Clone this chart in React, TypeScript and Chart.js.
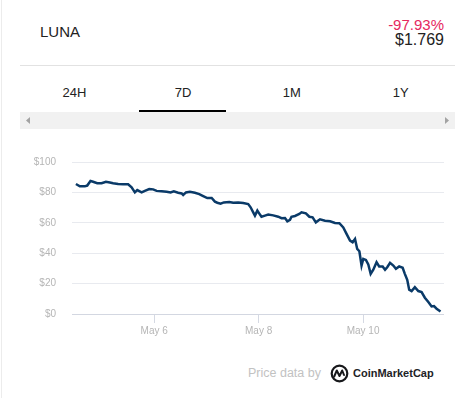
import React, { useEffect, useRef } from "react";
import { Chart, registerables } from "chart.js";

Chart.register(...registerables);

// Hours since May 4, 00:00
const hours = [
  12.0, 13.8, 16.1, 17.2, 18.7, 19.9, 21.8, 23.8, 25.8, 27.6, 29.1, 31.4, 33.7, 36.0, 37.6, 39.1,
  40.2, 42.2, 43.7, 45.7, 47.5, 49.1, 51.4, 53.7, 55.5, 57.0, 59.0, 60.6, 61.3, 62.6, 64.4, 66.7,
  68.7, 70.5, 72.4, 74.4, 75.9, 77.0, 78.5, 80.0, 82.5, 84.3, 86.6, 88.9, 91.2, 92.3, 93.5, 94.3,
  95.4, 96.6, 97.3, 98.9, 100.4, 102.7, 105.0, 106.5, 108.1, 109.2, 110.4, 111.1, 112.7, 114.7,
  115.7, 117.7, 119.3, 120.8, 122.3, 124.2, 126.5, 128.8, 131.1, 133.1, 134.9, 136.4, 138.0,
  139.2, 140.3, 141.3, 142.3, 143.3, 144.1, 145.3, 146.4, 147.5, 148.7, 150.2, 151.4, 153.0,
  154.1, 155.1, 156.4, 157.9, 159.1, 160.6, 162.2, 163.2, 164.3, 165.2, 166.3, 167.8, 169.4,
  170.9, 172.4, 174.0, 175.5, 176.6, 177.8, 179.6,
];

const prices = [
  85.5, 84.0, 84.0, 84.5, 87.5, 87.0, 86.0, 86.0, 87.0, 86.5, 86.0, 85.5, 85.3, 85.3, 83.3, 80.0,
  81.5, 80.0, 81.0, 82.2, 82.0, 81.0, 80.7, 80.4, 80.0, 80.7, 79.8, 79.3, 78.3, 80.0, 80.4, 79.8,
  78.9, 77.6, 76.3, 76.3, 73.9, 73.2, 72.6, 73.4, 73.7, 73.2, 73.4, 73.0, 72.3, 70.2, 66.9, 64.7,
  68.0, 65.4, 64.0, 64.7, 65.4, 64.9, 64.0, 63.0, 63.2, 61.0, 61.9, 64.0, 64.5, 65.8,
  66.9, 66.2, 64.0, 63.6, 60.3, 62.3, 61.4, 61.0, 59.9, 59.7, 57.0, 52.7, 48.3,
  47.2, 49.4, 42.8, 41.3, 31.9, 36.3, 35.6, 32.6, 26.4, 29.1, 34.1, 31.3, 31.3,
  29.1, 30.8, 33.7, 31.9, 29.7, 31.3, 30.4, 26.4, 22.5, 16.0, 15.1, 17.7, 15.1,
  14.4, 10.7, 7.9, 5.0, 5.2, 3.5, 1.7,
];

const xTickHours = [48, 96, 144];
const xTickLabels = ["May 6", "May 8", "May 10"];
const yTicks = [0, 20, 40, 60, 80, 100];

const tabs = ["24H", "7D", "1M", "1Y"];

function PriceChart() {
  const ref = useRef<HTMLCanvasElement | null>(null);
  useEffect(() => {
    if (!ref.current) return;
    const chart = new Chart(ref.current, {
      type: "line",
      data: {
        datasets: [
          {
            data: hours.map((h, i) => ({ x: h, y: prices[i] })),
            borderColor: "#0a3a68",
            borderWidth: 2.5,
            pointRadius: 0,
            tension: 0,
            fill: false,
          },
        ],
      },
      options: {
        animation: false,
        responsive: false,
        maintainAspectRatio: false,
        events: [],
        layout: { padding: { top: 21, right: 26, left: 0, bottom: 0 } },
        plugins: { legend: { display: false }, tooltip: { enabled: false } },
        scales: {
          x: {
            type: "linear",
            min: 10.2,
            max: 181.2,
            afterFit: (s: any) => {
              s.height = 36;
            },
            afterBuildTicks: (s: any) => {
              s.ticks = xTickHours.map((v) => ({ value: v }));
            },
            border: { display: false },
            grid: {
              drawOnChartArea: false,
              drawTicks: true,
              tickLength: 9,
              color: "#d5d9e3",
            },
            ticks: {
              padding: 2,
              color: "#b5b5b5",
              font: { family: "Liberation Sans", size: 10 },
              maxRotation: 0,
              callback: (v: any) => {
                const i = xTickHours.indexOf(Number(v));
                return i >= 0 ? xTickLabels[i] : "";
              },
            },
          },
          y: {
            min: 0,
            max: 100,
            afterFit: (s: any) => {
              s.width = 72;
            },
            afterBuildTicks: (s: any) => {
              s.ticks = yTicks.map((v) => ({ value: v }));
            },
            border: { display: false },
            grid: {
              drawTicks: false,
              color: (ctx: any) => (ctx.tick && ctx.tick.value === 0 ? "#d3d7e1" : "#e8eaef"),
              lineWidth: 1,
            },
            ticks: {
              padding: 16,
              color: "#b5b5b5",
              font: { family: "Liberation Sans", size: 10 },
              callback: (v: any) => "$" + v,
            },
          },
        },
      },
    });
    return () => chart.destroy();
  }, []);
  return (
    <canvas
      ref={ref}
      width={470}
      height={210}
      style={{ position: "absolute", left: 0, top: 140, width: 470, height: 210 }}
    />
  );
}

export default function App() {
  useEffect(() => {
    document.body.style.margin = "0";
  }, []);
  const font = "'Liberation Sans', Arial, sans-serif";
  return (
    <div
      style={{
        position: "relative",
        width: 470,
        height: 398,
        background: "#fff",
        fontFamily: font,
        overflow: "hidden",
      }}
    >
      <div style={{ position: "absolute", left: 1, top: 0, width: 1, height: 398, background: "#ececec" }} />
      <div style={{ position: "absolute", left: 40, top: 23, fontSize: 15, color: "#222", lineHeight: "18px" }}>
        LUNA
      </div>
      <div
        style={{
          position: "absolute",
          right: 26,
          top: 16,
          fontSize: 15,
          color: "#e5285e",
          lineHeight: "18px",
          textAlign: "right",
        }}
      >
        -97.93%
      </div>
      <div
        style={{
          position: "absolute",
          right: 26,
          top: 30,
          fontSize: 16,
          color: "#222",
          lineHeight: "20px",
          textAlign: "right",
        }}
      >
        $1.769
      </div>
      <div style={{ position: "absolute", left: 20, top: 65, width: 435, height: 1, background: "#e2e2e2" }} />
      {tabs.map((t, i) => (
        <div
          key={t}
          style={{
            position: "absolute",
            left: 20 + i * 108.75,
            width: 108.75,
            top: 85,
            textAlign: "center",
            fontSize: 13,
            lineHeight: "16px",
            color: "#222",
          }}
        >
          {t}
        </div>
      ))}
      <div style={{ position: "absolute", left: 139, top: 109.5, width: 87, height: 2, background: "#000" }} />
      <div style={{ position: "absolute", left: 20, top: 112, width: 435, height: 17, background: "#f1f1f1" }} />
      <svg style={{ position: "absolute", left: 20, top: 112 }} width={435} height={17}>
        <polygon points="6,8.5 10,5 10,12" fill="#a3a3a3" />
        <polygon points="429,8.5 425,5 425,12" fill="#a3a3a3" />
      </svg>
      <PriceChart />
      <div
        style={{
          position: "absolute",
          left: 248,
          top: 365,
          fontSize: 12.5,
          lineHeight: "16px",
          color: "#c2c2c2",
        }}
      >
        Price data by
      </div>
      <svg style={{ position: "absolute", left: 330, top: 364 }} width={19} height={19} viewBox="0 0 19 19">
        <circle cx="9.5" cy="9.5" r="7.8" fill="none" stroke="#17181b" strokeWidth="2.2" />
        <path
          d="M4.2 12.5 L6.8 6.5 L9.5 12 L12.2 6.5 L14 11"
          fill="none"
          stroke="#17181b"
          strokeWidth="2"
          strokeLinejoin="round"
          strokeLinecap="round"
        />
      </svg>
      <div
        style={{
          position: "absolute",
          left: 353,
          top: 366,
          fontSize: 11,
          lineHeight: "14px",
          fontWeight: 700,
          color: "#222326",
        }}
      >
        CoinMarketCap
      </div>
    </div>
  );
}
